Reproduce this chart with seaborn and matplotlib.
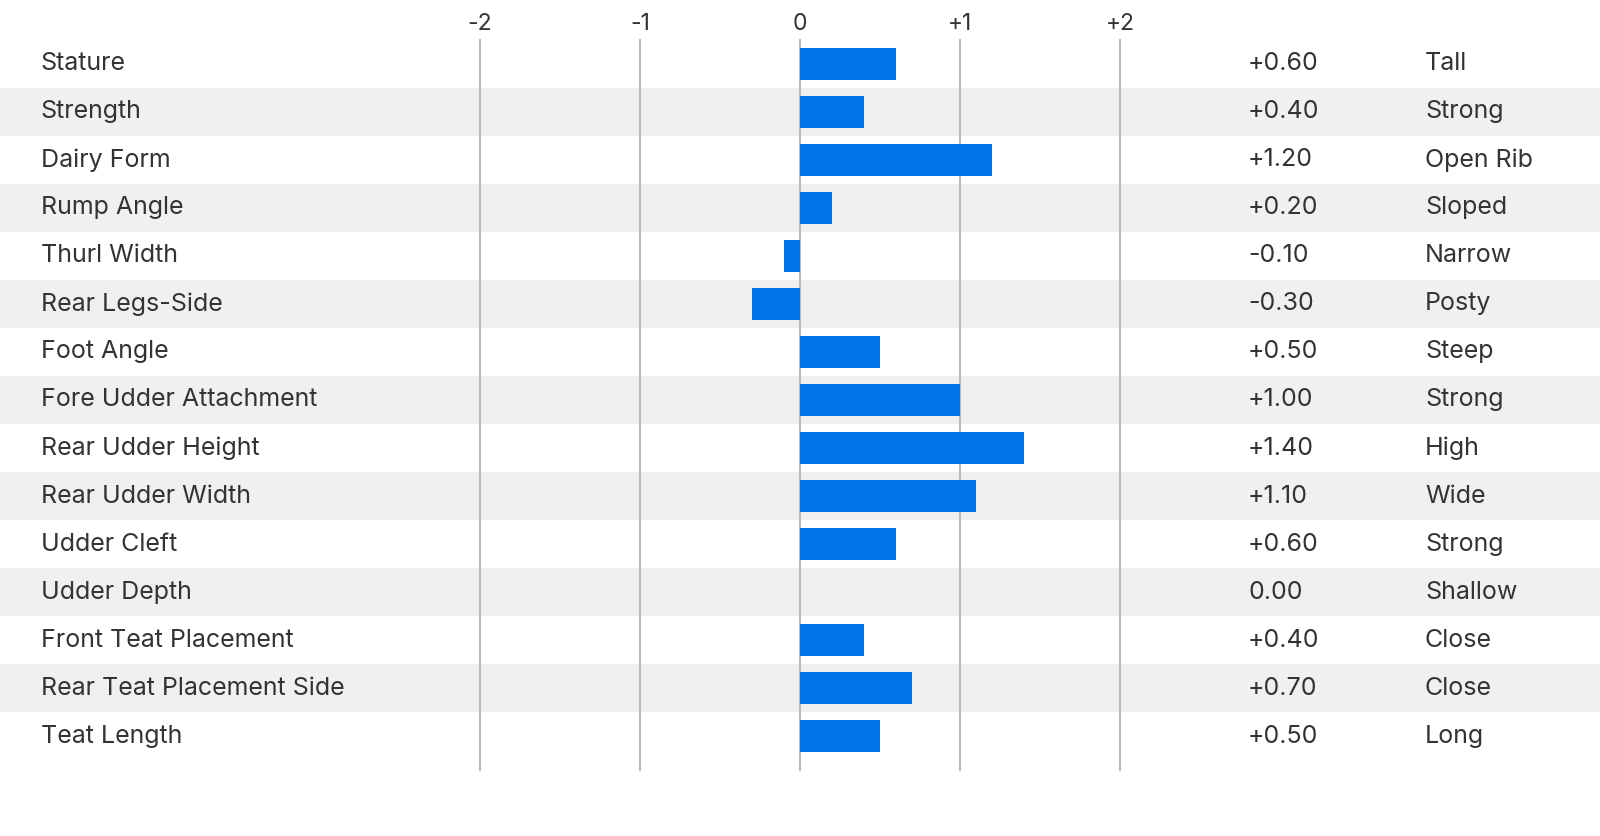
#!/usr/bin/env python3
import matplotlib
matplotlib.use("Agg")
import matplotlib.pyplot as plt
import pandas as pd
import seaborn as sns

TRAITS = [
    "Stature", "Strength", "Dairy Form", "Rump Angle", "Thurl Width",
    "Rear Legs-Side", "Foot Angle", "Fore Udder Attachment", "Rear Udder Height",
    "Rear Udder Width", "Udder Cleft", "Udder Depth", "Front Teat Placement",
    "Rear Teat Placement Side", "Teat Length",
]
SCORES = [0.60, 0.40, 1.20, 0.20, -0.10, -0.30, 0.50, 1.00, 1.40, 1.10, 0.60, 0.00, 0.40, 0.70, 0.50]
DESCRIPTORS = [
    "Tall", "Strong", "Open Rib", "Sloped", "Narrow", "Posty", "Steep", "Strong",
    "High", "Wide", "Strong", "Shallow", "Close", "Close", "Long",
]
TICKS = [-2, -1, 0, 1, 2]
TICK_LABELS = ["-2", "-1", "0", "+1", "+2"]

BAR_COLOR = "#0073E6"
BAND_COLOR = "#F0F0F0"
GRID_COLOR = "#B8B8B8"
TEXT_COLOR = "#333333"

sns.set_theme(style="white")
plt.rcParams["font.family"] = ["Inter", "DejaVu Sans"]


def fmt(v: float) -> str:
    if v > 0:
        return f"+{v:.2f}"
    return f"{v:.2f}"


def main() -> None:
    df = pd.DataFrame({"trait": TRAITS, "score": SCORES})
    n = len(TRAITS)

    fig = plt.figure(figsize=(16, 8.36), dpi=100)
    ax = fig.add_axes([0, 0, 1, 1])

    # alternating row bands
    for i in range(n):
        if i % 2 == 1:
            ax.axhspan(i - 0.5, i + 0.5, color=BAND_COLOR, zorder=0, lw=0)

    ax.vlines(TICKS, -0.521, 14.73, color=GRID_COLOR, lw=1.5, zorder=1)

    sns.barplot(data=df, x="score", y="trait", orient="h", color=BAR_COLOR,
                saturation=1, width=0.66, linewidth=0, ax=ax, zorder=2)

    for t, lab in zip(TICKS, TICK_LABELS):
        ax.text(t, -0.84, lab, ha="center", va="center", fontsize=16.5, color=TEXT_COLOR)

    for i, (name, v, d) in enumerate(zip(TRAITS, SCORES, DESCRIPTORS)):
        ax.text(-4.745, i, name, ha="left", va="center", fontsize=18, color=TEXT_COLOR)
        ax.text(2.8, i, fmt(v), ha="left", va="center", fontsize=18, color=TEXT_COLOR)
        ax.text(3.906, i, d, ha="left", va="center", fontsize=18, color=TEXT_COLOR)

    ax.set_xlim(-5, 5)
    ax.set_ylim(16.083, -1.333)
    ax.axis("off")

    fig.savefig("out.png", dpi=100)
    plt.close(fig)


if __name__ == "__main__":
    main()
